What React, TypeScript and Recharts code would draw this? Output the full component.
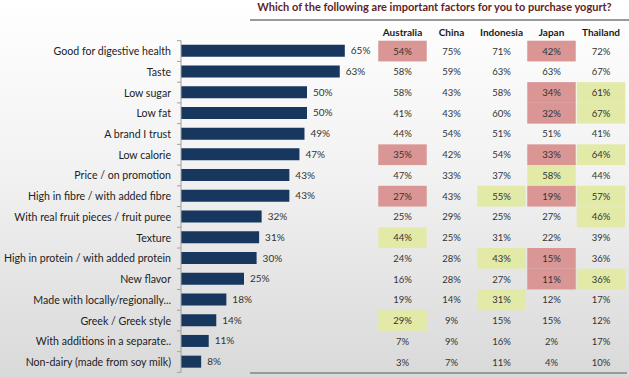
import React from 'react';
import { BarChart, Bar, XAxis, YAxis, LabelList } from 'recharts';

const categories = [
  'Good for digestive health',
  'Taste',
  'Low sugar',
  'Low fat',
  'A brand I trust',
  'Low calorie',
  'Price / on promotion',
  'High in fibre / with added fibre',
  'With real fruit pieces / fruit puree',
  'Texture',
  'High in protein / with added protein',
  'New flavor',
  'Made with locally/regionally...',
  'Greek / Greek style',
  'With additions in a separate..',
  'Non-dairy (made from soy milk)',
];
const overall = [65, 63, 50, 50, 49, 47, 43, 43, 32, 31, 30, 25, 18, 14, 11, 8];

const countries = ['Australia', 'China', 'Indonesia', 'Japan', 'Thailand'];
const australia = [54, 58, 58, 41, 44, 35, 47, 27, 25, 44, 24, 16, 19, 29, 7, 3];
const china = [75, 59, 43, 43, 54, 42, 33, 43, 29, 25, 28, 28, 14, 9, 9, 7];
const indonesia = [71, 63, 58, 60, 51, 54, 37, 55, 25, 31, 43, 27, 31, 15, 16, 11];
const japan = [42, 63, 34, 32, 51, 33, 58, 19, 27, 22, 15, 11, 12, 15, 2, 4];
const thailand = [72, 67, 61, 67, 41, 64, 44, 57, 46, 39, 36, 36, 17, 12, 17, 10];

// highlight codes: r = below (red), g = above (green), '' = none
const australiaHi = ['r', '', '', '', '', 'r', '', 'r', '', 'g', '', '', '', 'g', '', ''];
const chinaHi = ['', '', '', '', '', '', '', '', '', '', '', '', '', '', '', ''];
const indonesiaHi = ['', '', '', '', '', '', '', 'g', '', '', 'g', '', 'g', '', '', ''];
const japanHi = ['r', '', 'r', 'r', '', 'r', 'g', 'r', '', '', 'r', 'r', '', '', '', ''];
const thailandHi = ['', '', 'g', 'g', '', 'g', '', 'g', 'g', '', '', 'g', '', '', '', ''];

const tableValues = [australia, china, indonesia, japan, thailand];
const tableHi = [australiaHi, chinaHi, indonesiaHi, japanHi, thailandHi];

const data = categories.map((name, i) => ({ name, value: overall[i] }));

const FONT = 'Lato, "Open Sans", sans-serif';
const COL_X = [402.5, 451.5, 501.5, 551.5, 601];
const CELL_W = 48.5;
const ROW_H = 20.73;
const RED = '#d99694';
const GREEN = '#e3eaa8';

const RowTick = (props: any) => {
  const { y, payload } = props;
  const i = categories.indexOf(payload.value);
  const isLast = i === categories.length - 1;
  return (
    <g>
      <line x1={177} x2={181} y1={y - ROW_H / 2} y2={y - ROW_H / 2} stroke="#a0a0a0" />
      {isLast && <line x1={177} x2={181} y1={y + ROW_H / 2} y2={y + ROW_H / 2} stroke="#a0a0a0" />}
      <text
        x={171}
        y={y}
        textAnchor="end"
        dominantBaseline="central"
        fontFamily={FONT}
        fontSize={10.6}
        fill="#222"
      >
        {payload.value}
      </text>
      {tableValues.map((col, c) => {
        const hi = tableHi[c][i];
        return (
          <g key={c}>
            {hi && (
              <rect
                x={COL_X[c] - CELL_W / 2}
                y={y - ROW_H / 2}
                width={CELL_W}
                height={ROW_H}
                fill={hi === 'r' ? RED : GREEN}
              />
            )}
            <text
              x={COL_X[c]}
              y={y}
              textAnchor="middle"
              dominantBaseline="central"
              fontFamily={FONT}
              fontSize={9.5}
              fill="#333"
            >
              {col[i]}%
            </text>
          </g>
        );
      })}
    </g>
  );
};

export default function App() {
  return (
    <div
      style={{
        position: 'relative',
        width: 629,
        height: 378,
        background: 'linear-gradient(to bottom, #ffffff 0%, #f2f2f2 45%, #d9d9d9 100%)',
        overflow: 'hidden',
      }}
    >
      <style>{`body{margin:0}`}</style>
      <div
        style={{
          position: 'absolute',
          left: 245,
          top: 0,
          width: 379,
          textAlign: 'center',
          fontFamily: FONT,
          fontWeight: 700,
          fontSize: 11,
          lineHeight: '13px',
          color: '#5e1f26',
          whiteSpace: 'nowrap',
        }}
      >
        Which of the following are important factors for you to purchase yogurt?
      </div>
      <div style={{ position: 'absolute', left: 250, top: 19, width: 379, height: 2, background: '#9a9a9a' }} />
      {countries.map((c, k) => (
        <div
          key={c}
          style={{
            position: 'absolute',
            left: COL_X[k] - 30,
            top: 25,
            width: 60,
            textAlign: 'center',
            fontFamily: FONT,
            fontWeight: 700,
            fontSize: 10,
            lineHeight: '14px',
            color: '#1a1a1a',
          }}
        >
          {c}
        </div>
      ))}
      <div style={{ position: 'absolute', left: 250, top: 372, width: 377, height: 2, background: '#9a9a9a' }} />
      <div style={{ position: 'absolute', left: 0, top: 0 }}>
        <BarChart
          width={629}
          height={378}
          data={data}
          layout="vertical"
          margin={{ top: 40.7, right: 196, bottom: 5.6, left: 0 }}
        >
          <XAxis type="number" domain={[0, 100]} hide />
          <YAxis
            type="category"
            dataKey="name"
            width={181}
            axisLine={{ stroke: '#a0a0a0' }}
            tickLine={false}
            tick={<RowTick />}
            interval={0}
          />
          <Bar dataKey="value" fill="#17375e" barSize={12} isAnimationActive={false}>
            <LabelList
              dataKey="value"
              position="right"
              offset={6}
              formatter={(v: any) => `${v}%`}
              style={{ fontFamily: FONT, fontSize: 10, fill: '#333' }}
            />
          </Bar>
        </BarChart>
      </div>
    </div>
  );
}
